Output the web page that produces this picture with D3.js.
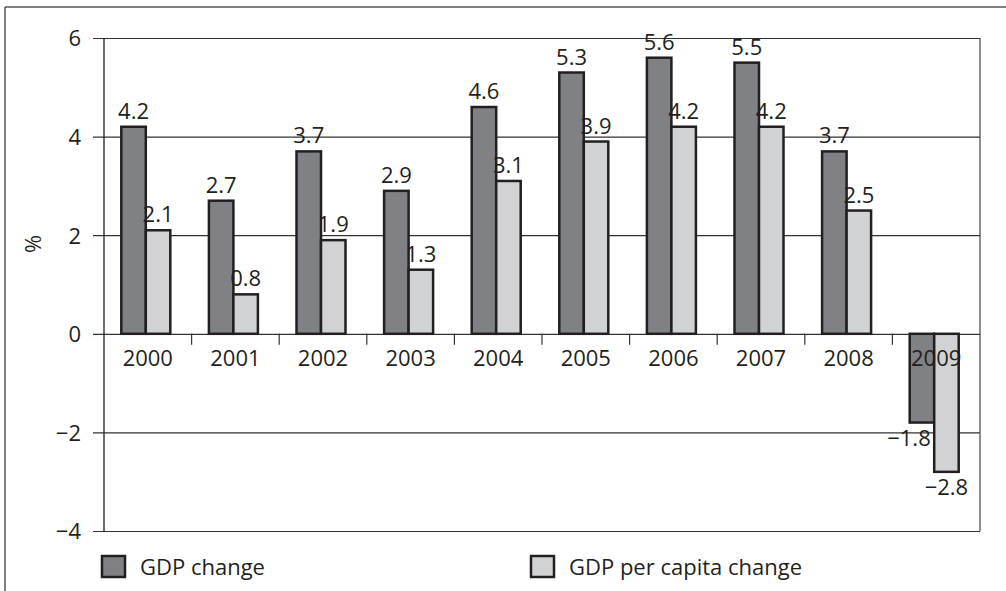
<!DOCTYPE html>
<html>
<head>
<meta charset="utf-8">
<script src="https://cdn.jsdelivr.net/npm/d3@7"></script>
<style>
  html, body { margin: 0; padding: 0; background: #fff; }
  svg { display: block; }
  text { font-family: "Open Sans", "Noto Sans", sans-serif; fill: #231f20; }
</style>
</head>
<body>
<svg id="chart" width="1006" height="591"></svg>
<script>
const years = ["2000","2001","2002","2003","2004","2005","2006","2007","2008","2009"];
const gdpChange = [4.2, 2.7, 3.7, 2.9, 4.6, 5.3, 5.6, 5.5, 3.7, -1.8];
const gdpPerCapitaChange = [2.1, 0.8, 1.9, 1.3, 3.1, 3.9, 4.2, 4.2, 2.5, -2.8];
const seriesNames = ["GDP change", "GDP per capita change"];
const seriesColors = ["#808185", "#d1d2d4"];
const yTicks = [-4, -2, 0, 2, 4, 6];

const svg = d3.select("#chart");
const W = 1006, H = 591;
const m = { left: 104, right: 980, top: 38, bottom: 531 };
const FS = "22px";

const fmt = v => (v < 0 ? "\u2212" + Math.abs(v).toFixed(1) : v.toFixed(1));
const fmtTick = v => (v < 0 ? "\u2212" + Math.abs(v) : String(v));

// outer frame (top and left edges visible)
svg.append("line").attr("x1", 5).attr("x2", W).attr("y1", 7).attr("y2", 7)
  .attr("stroke", "#555").attr("stroke-width", 1.5);
svg.append("line").attr("x1", 5).attr("x2", 5).attr("y1", 7).attr("y2", H)
  .attr("stroke", "#555").attr("stroke-width", 1.5);

const y = d3.scaleLinear().domain([-4, 6]).range([m.bottom, m.top]);
const x0 = d3.scaleBand().domain(years).range([m.left, m.right]).padding(0);
const bw = x0.bandwidth();
const pairW = 49;
const x1 = d3.scaleBand().domain(seriesNames)
  .range([bw / 2 - pairW / 2 - 2, bw / 2 + pairW / 2 - 2]).padding(0);

// gridlines + y ticks
const yAxis = d3.axisLeft(y).tickValues(yTicks).tickFormat(fmtTick)
  .tickSize(-(m.right - m.left)).tickPadding(0);
const gy = svg.append("g").attr("transform", `translate(${m.left},0)`).call(yAxis);
gy.select(".domain").remove();
gy.selectAll(".tick line").attr("x1", -11).attr("stroke", "#333").attr("stroke-width", 1.2);
gy.selectAll(".tick text").attr("x", -23).attr("dy", "0.36em")
  .style("font-size", FS).style("font-family", "'Open Sans', sans-serif").attr("fill", "#231f20");

// plot frame verticals
svg.append("line").attr("x1", m.left).attr("x2", m.left).attr("y1", m.top).attr("y2", m.bottom)
  .attr("stroke", "#231f20").attr("stroke-width", 1.3);
svg.append("line").attr("x1", m.right).attr("x2", m.right).attr("y1", m.top).attr("y2", m.bottom)
  .attr("stroke", "#444").attr("stroke-width", 1.2);

// x tick marks at band boundaries
svg.append("g").selectAll("line").data(years.slice(1)).join("line")
  .attr("x1", d => x0(d)).attr("x2", d => x0(d))
  .attr("y1", y(0)).attr("y2", y(0) + 11)
  .attr("stroke", "#333").attr("stroke-width", 1.2);

// bars
const rows = years.map((yr, i) => ({ year: yr, vals: [gdpChange[i], gdpPerCapitaChange[i]] }));
const groups = svg.append("g").selectAll("g").data(rows).join("g")
  .attr("transform", d => `translate(${x0(d.year)},0)`);
groups.selectAll("rect").data(d => d.vals.map((v, k) => ({ v, k }))).join("rect")
  .attr("x", d => x1(seriesNames[d.k]))
  .attr("width", x1.bandwidth())
  .attr("y", d => y(Math.max(0, d.v)))
  .attr("height", d => Math.abs(y(d.v) - y(0)))
  .attr("fill", d => seriesColors[d.k])
  .attr("stroke", "#231f20").attr("stroke-width", 2.5);

// value labels
groups.selectAll("text.val").data(d => d.vals.map((v, k) => ({ v, k }))).join("text")
  .attr("class", "val")
  .attr("x", d => x1(seriesNames[d.k]) + x1.bandwidth() / 2 + (d.v < 0 && d.k === 0 ? -13 : 0))
  .attr("y", d => d.v >= 0 ? y(d.v) - 8 : y(d.v) + 23)
  .attr("text-anchor", "middle")
  .style("font-size", FS)
  .text(d => fmt(d.v));

// year labels (drawn on top of bars)
svg.append("g").selectAll("text").data(years).join("text")
  .attr("x", d => x0(d) + bw / 2)
  .attr("y", y(0) + 32)
  .attr("text-anchor", "middle")
  .style("font-size", FS)
  .text(d => d);

// y-axis title
svg.append("text").attr("transform", "translate(41,244) rotate(-90)")
  .attr("text-anchor", "middle").style("font-size", FS).text("%");

// legend
const legX = [101, 530];
const leg = svg.append("g").selectAll("g").data(seriesNames).join("g")
  .attr("transform", (d, i) => `translate(${legX[i]},0)`);
leg.append("rect").attr("x", 1).attr("y", 556).attr("width", 23).attr("height", 21)
  .attr("fill", (d, i) => seriesColors[i]).attr("stroke", "#231f20").attr("stroke-width", 2.5);
leg.append("text").attr("x", 39).attr("y", 575).style("font-size", FS).text(d => d);
</script>
</body>
</html>
